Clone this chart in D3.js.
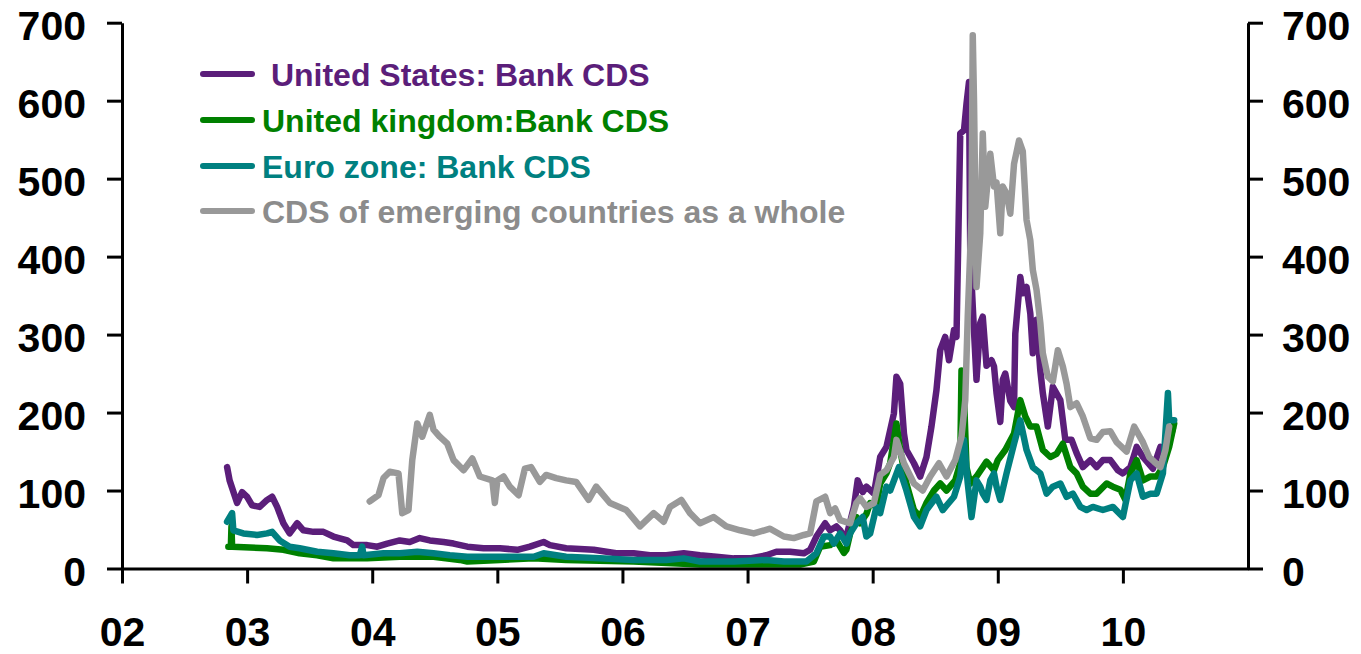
<!DOCTYPE html>
<html>
<head>
<meta charset="utf-8">
<script src="https://cdn.jsdelivr.net/npm/d3@7"></script>
<style>
  html, body { margin: 0; padding: 0; background: #fff; }
  svg { display: block; font-family: "Liberation Sans", Arial, sans-serif; font-weight: bold; }
</style>
</head>
<body>
<svg id="chart" width="1361" height="654"></svg>
<script>
// ---- Data (decimal years, bp) ----
const yTicks = [0, 100, 200, 300, 400, 500, 600, 700];
const xTickYears = [2002, 2003, 2004, 2005, 2006, 2007, 2008, 2009, 2010];
const xTickLabels = ["02", "03", "04", "05", "06", "07", "08", "09", "10"];

const seriesNames = [" United States: Bank CDS", "United kingdom:Bank CDS", "Euro zone: Bank CDS", "CDS of emerging countries as a whole"];

const usDates = [2002.84,2002.86,2002.92,2002.96,2003.00,2003.04,2003.10,2003.16,2003.20,2003.24,2003.29,2003.34,2003.40,2003.45,2003.53,2003.61,2003.69,2003.80,2003.85,2003.96,2004.04,2004.12,2004.22,2004.30,2004.38,2004.46,2004.57,2004.65,2004.76,2004.89,2005.02,2005.16,2005.26,2005.37,2005.42,2005.55,2005.77,2005.95,2006.09,2006.22,2006.35,2006.49,2006.62,2006.75,2006.89,2007.02,2007.15,2007.23,2007.34,2007.45,2007.50,2007.55,2007.62,2007.66,2007.71,2007.74,2007.77,2007.79,2007.85,2007.88,2007.92,2007.95,2008.01,2008.06,2008.11,2008.17,2008.19,2008.22,2008.25,2008.27,2008.33,2008.38,2008.43,2008.47,2008.51,2008.54,2008.58,2008.61,2008.65,2008.67,2008.70,2008.73,2008.75,2008.77,2008.78,2008.80,2008.83,2008.86,2008.88,2008.91,2008.95,2008.97,2008.99,2009.02,2009.04,2009.06,2009.10,2009.13,2009.14,2009.18,2009.20,2009.23,2009.26,2009.28,2009.31,2009.34,2009.36,2009.40,2009.44,2009.50,2009.54,2009.59,2009.63,2009.68,2009.74,2009.79,2009.84,2009.90,2009.96,2010.00,2010.06,2010.11,2010.16,2010.24,2010.30,2010.35,2010.40];
const usValues = [130,113,84,98,92,81,79,88,92,79,58,45,58,49,47,47,41,36,30,30,28,32,36,34,39,36,34,32,28,26,26,24,28,34,30,26,24,19.5,19.5,17,17,19.5,17,15,13,13,17,21.5,21.5,19.5,24,41,58,49,54,49,41,41,79,113,98,105,96,143,156,199,246,237,173,152,135,118,143,182,229,280,297,267,306,297,558,562,596,624,404,336,242,315,323,260,267,259,225,188,242,250,215,207,301,374,353,361,327,276,319,254,225,182,233,216,165,165,148,130,139,130,139,139,126,122,130,156,143,128,156,150,180];

const ukDates = [2002.85,2002.87,2002.875,2002.88,2003.16,2003.29,2003.42,2003.56,2003.69,2003.96,2004.22,2004.49,2004.70,2004.76,2005.02,2005.29,2005.55,2005.82,2006.09,2006.62,2007.15,2007.42,2007.53,2007.58,2007.66,2007.71,2007.77,2007.79,2007.82,2007.87,2007.90,2007.95,2007.98,2008.03,2008.06,2008.11,2008.14,2008.19,2008.22,2008.27,2008.33,2008.38,2008.43,2008.49,2008.54,2008.59,2008.66,2008.70,2008.71,2008.73,2008.75,2008.78,2008.83,2008.91,2008.97,2009.00,2009.06,2009.13,2009.18,2009.22,2009.26,2009.31,2009.36,2009.42,2009.47,2009.52,2009.58,2009.63,2009.68,2009.74,2009.79,2009.87,2009.92,2009.98,2010.02,2010.06,2010.11,2010.16,2010.22,2010.27,2010.32,2010.37,2010.41];
const ukValues = [28,28,54,28,26,24,19.5,17,13,13,15,15,11,9,11,13,11,10,9,5,5,5,9,28,30,36,20,24,45,66,58,70,84,79,109,122,135,186,152,109,75,66,84,100,109,100,113,135,254,220,130,109,118,137,126,139,152,173,216,195,182,182,152,143,147,160,130,122,105,96,96,109,105,101,88,122,139,113,118,118,130,156,186];

const euDates = [2002.84,2002.88,2002.89,2002.97,2003.08,2003.16,2003.20,2003.26,2003.34,2003.42,2003.56,2003.69,2003.82,2003.90,2003.92,2003.93,2004.09,2004.22,2004.36,2004.49,2004.62,2004.76,2005.02,2005.29,2005.37,2005.55,2005.82,2006.09,2006.35,2006.49,2006.62,2006.89,2007.15,2007.29,2007.47,2007.55,2007.61,2007.66,2007.69,2007.74,2007.79,2007.82,2007.87,2007.92,2007.95,2007.98,2008.03,2008.06,2008.11,2008.14,2008.21,2008.27,2008.33,2008.38,2008.43,2008.51,2008.56,2008.65,2008.70,2008.73,2008.76,2008.79,2008.83,2008.86,2008.88,2008.91,2008.94,2008.97,2008.99,2009.02,2009.07,2009.13,2009.18,2009.23,2009.28,2009.34,2009.39,2009.44,2009.50,2009.55,2009.60,2009.66,2009.71,2009.76,2009.84,2009.92,2010.00,2010.06,2010.11,2010.16,2010.22,2010.27,2010.32,2010.36,2010.37,2010.41];
const euValues = [60,71,49,45,43,45,47,36,28,26,21.5,19.5,17,17,28,17,19.5,19.5,21.5,19.5,17,15,15,15,19.5,15,13,11,11,13,9,9,11,9,9,19.5,41,41,32,45,32,45,58,66,41,45,79,71,105,100,130,100,66,54,75,92,75,92,118,165,109,66,113,105,96,88,113,122,105,88,122,160,190,152,130,122,96,105,109,92,96,79,75,79,75,79,66,113,122,92,96,96,122,225,190,190];

const emDates = [2003.98,2004.05,2004.09,2004.14,2004.21,2004.24,2004.29,2004.32,2004.36,2004.40,2004.46,2004.49,2004.54,2004.60,2004.65,2004.73,2004.80,2004.86,2004.96,2004.98,2005.00,2005.05,2005.10,2005.17,2005.22,2005.27,2005.34,2005.39,2005.47,2005.55,2005.63,2005.73,2005.79,2005.90,2006.03,2006.14,2006.25,2006.33,2006.38,2006.47,2006.54,2006.62,2006.73,2006.83,2006.94,2007.05,2007.18,2007.29,2007.37,2007.45,2007.50,2007.55,2007.62,2007.66,2007.70,2007.74,2007.82,2007.87,2007.90,2007.95,2008.01,2008.06,2008.11,2008.17,2008.19,2008.25,2008.33,2008.40,2008.46,2008.53,2008.59,2008.66,2008.71,2008.74,2008.76,2008.79,2008.80,2008.81,2008.83,2008.86,2008.88,2008.90,2008.94,2008.97,2008.99,2009.02,2009.04,2009.07,2009.10,2009.13,2009.17,2009.20,2009.23,2009.26,2009.28,2009.31,2009.34,2009.36,2009.40,2009.44,2009.48,2009.52,2009.55,2009.58,2009.63,2009.68,2009.74,2009.79,2009.84,2009.90,2009.95,2010.03,2010.09,2010.16,2010.21,2010.25,2010.30,2010.34,2010.37];
const emValues = [86,94,116,124,122,71,75,139,186,169,197,178,169,160,139,126,141,118,113,84,113,118,105,94,128,130,111,120,116,113,111,88,105,84,75,54,71,60,79,88,71,58,66,54,49,45,51,41,39,43,45,86,92,71,77,62,58,84,90,79,84,120,126,143,165,135,109,100,118,135,118,139,169,216,323,450,684,600,361,430,558,464,532,490,495,430,490,481,455,519,549,535,447,421,383,357,315,276,246,240,280,259,237,207,212,195,167,165,175,176,162,150,182,162,143,137,130,152,182];

const colors = ["#5B1E7A", "#008000", "#008080", "#999999"];
const textColors = ["#5B1E7A", "#008000", "#008080", "#8C8C8C"];

// ---- Chart ----
const svg = d3.select("#chart");
const x = d3.scaleLinear().domain([2002, 2011]).range([122, 1248]);
const y = d3.scaleLinear().domain([0, 700]).range([568.5, 22.7]);

const series = [
  {dates: usDates, values: usValues},
  {dates: ukDates, values: ukValues},
  {dates: euDates, values: euValues},
  {dates: emDates, values: emValues}
];

const line = d3.line().x(d => x(d[0])).y(d => y(d[1]));

const gLines = svg.append("g");
series.forEach((s, i) => {
  const pts = s.dates.map((d, j) => [d, s.values[j]]);
  gLines.append("path")
    .attr("d", line(pts))
    .attr("fill", "none")
    .attr("stroke", colors[i])
    .attr("stroke-width", 6.5)
    .attr("stroke-linejoin", "round")
    .attr("stroke-linecap", "round");
});

function styleAxis(g) {
  g.selectAll("path.domain").attr("stroke", "#000").attr("stroke-width", 3);
  g.selectAll(".tick line").attr("stroke", "#000").attr("stroke-width", 3);
  g.selectAll(".tick text").attr("fill", "#000")
    .style("font-size", "41px").style("font-weight", "bold")
    .style("font-family", "'Liberation Sans', Arial, sans-serif");
}

// Left axis
const gl = svg.append("g").attr("transform", "translate(122,0)")
  .call(d3.axisLeft(y).tickValues(yTicks).tickSize(15).tickSizeOuter(0).tickPadding(21));
styleAxis(gl);
gl.selectAll(".tick text").attr("dy", "0.42em");

// Right axis
const gr = svg.append("g").attr("transform", "translate(1248,0)")
  .call(d3.axisRight(y).tickValues(yTicks).tickSize(15).tickSizeOuter(0).tickPadding(19));
styleAxis(gr);
gr.selectAll(".tick text").attr("dy", "0.42em");

// Bottom axis
const gb = svg.append("g").attr("transform", "translate(0,568.5)")
  .call(d3.axisBottom(x).tickValues(xTickYears).tickSize(15).tickSizeOuter(0).tickPadding(33)
    .tickFormat((d, i) => xTickLabels[i]));
styleAxis(gb);

// Legend
const legend = svg.append("g");
const legendY = [74, 120, 166, 211];
seriesNames.forEach((name, i) => {
  legend.append("line")
    .attr("x1", 203).attr("x2", 252)
    .attr("y1", legendY[i]).attr("y2", legendY[i])
    .attr("stroke", colors[i]).attr("stroke-width", 6).attr("stroke-linecap", "round");
  legend.append("text")
    .attr("x", 262).attr("y", legendY[i] + 12)
    .attr("fill", textColors[i])
    .style("font-size", "32px").style("font-weight", "bold")
    .style("white-space", "pre")
    .attr("xml:space", "preserve")
    .text(name);
});
</script>
</body>
</html>
